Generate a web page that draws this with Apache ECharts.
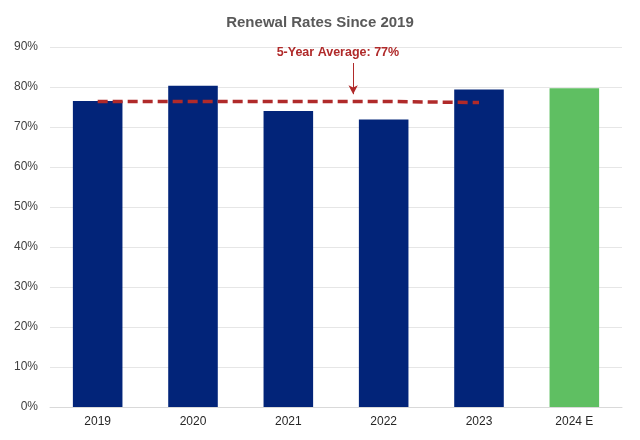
<!DOCTYPE html>
<html><head><meta charset="utf-8">
<script src="https://cdn.jsdelivr.net/npm/echarts@6/dist/echarts.min.js"></script>
<style>html,body{margin:0;padding:0;background:#fff}#c{width:640px;height:440px}</style>
</head><body><div id="c"></div>
<script>
const categories = ['2019','2020','2021','2022','2023','2024 E'];
const rates = [76.5, 80.3, 74.0, 71.9, 79.4, 79.7];
const avgPos = [0, 1, 2, 3, 4];
const avgValues = [76.4, 76.4, 76.4, 76.4, 76.1];
const yTicks = [0,10,20,30,40,50,60,70,80,90];
const annotationText = '5-Year Average: 77%';

const navy = '#022479', green = '#5fbf62', red = '#b02a2a';
const chart = echarts.init(document.getElementById('c'));
chart.setOption({
  animation: false,
  title: { text: 'Renewal Rates Since 2019', left: 'center', top: 10,
    textStyle: { fontFamily: 'Arial, Liberation Sans', fontSize: 15, fontWeight: 'bold', color: '#595959' } },
  grid: { left: 50, right: 18, top: 47, bottom: 33 },
  xAxis: [
    { type: 'category', data: categories,
      axisLine: { lineStyle: { color: '#d9d9d9' } }, axisTick: { show: false },
      axisLabel: { color: '#262626', fontSize: 12, fontFamily: 'Arial, Liberation Sans', margin: 9 } },
    { type: 'value', min: -0.5, max: 5.5, show: false }
  ],
  yAxis: { type: 'value', min: 0, max: 90, interval: 10,
    axisLabel: { formatter: v => yTicks.includes(v) ? v + '%' : '', color: '#404040', fontSize: 12,
      fontFamily: 'Arial, Liberation Sans', margin: 12 },
    splitLine: { lineStyle: { color: '#e6e6e6' } }, axisLine: { show: false }, axisTick: { show: false } },
  series: [
    { type: 'bar', data: rates.map((v, i) => ({ value: v,
        itemStyle: { color: i === categories.length - 1 ? green : navy } })),
      barWidth: '52%' },
    { type: 'line', xAxisIndex: 1, data: avgPos.map((x, i) => [x, avgValues[i]]),
      symbol: 'none', lineStyle: { color: red, width: 3.5, type: [10, 5] }, z: 5,
      markLine: { silent: true, symbol: ['none', 'arrow'], symbolSize: [7, 9],
        lineStyle: { color: red, width: 1, type: 'solid' }, label: { show: false },
        data: [[{ coord: [2.68, 86] }, { coord: [2.68, 78.2] }]] },
      markPoint: { symbolSize: 0, silent: true,
        label: { show: true, formatter: annotationText, color: red, fontWeight: 'bold', fontSize: 12.5,
          fontFamily: 'Arial, Liberation Sans' },
        data: [{ coord: [2.52, 88.6] }] } }
  ]
});
</script></body></html>
